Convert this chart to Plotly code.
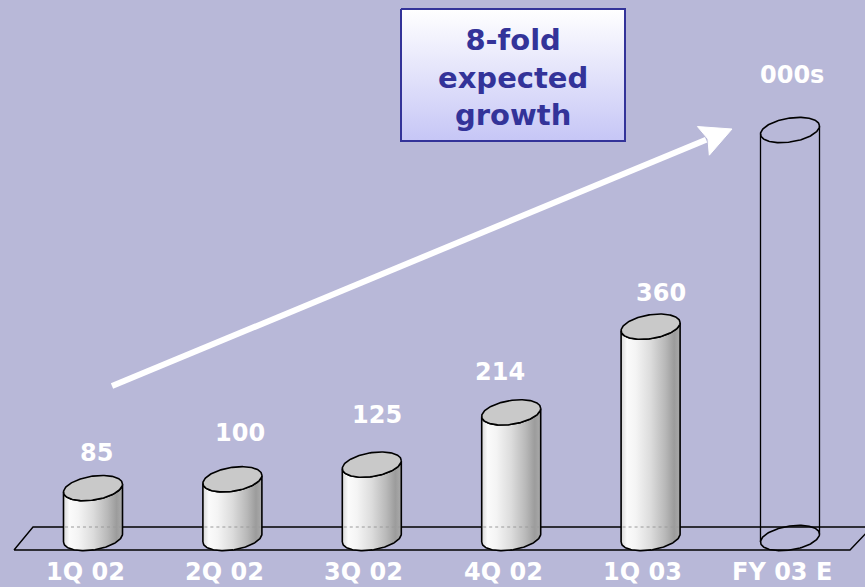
import numpy as np
import plotly.graph_objects as go

# ---- data -------------------------------------------------------------
categories = ["1Q 02", "2Q 02", "3Q 02", "4Q 02", "1Q 03", "FY 03 E"]
values = [85, 100, 125, 214, 360, 695]          # thousands
value_labels = ["85", "100", "125", "214", "360"]
unit_label = "000s"
callout_text = "8-fold<br>expected<br>growth"

# small nudges for the value labels (pixels: right, up from the cylinder top)
label_dx = [3, 8, 5, -11, 10]
label_dy = [35, 46, 50, 40, 34]

# ---- geometry / style -------------------------------------------------
W, H = 865, 587
BG = "#b8b8d8"
NAVY = "#333399"
FONT = "DejaVu Sans"
EDGE = 1.6

X0_PX, DX_PX = 93.0, 139.4        # pixel x of first category, pixel step
Y0_PX, PX_PER_UNIT = 538.0, 0.587  # pixel y of the zero line, pixels per unit


def xl(px):   # pixel length -> x-axis units
    return px / DX_PX


def yl(px):   # pixel length -> y-axis units
    return px / PX_PER_UNIT


def xp(px):   # pixel position -> x-axis coordinate
    return (px - X0_PX) / DX_PX


def yp(py):   # pixel position -> y-axis coordinate
    return (Y0_PX - py) / PX_PER_UNIT


A = xl(29.5)      # horizontal semi-axis of a cylinder end
B = yl(12.0)      # vertical semi-axis
TILT = yl(4.0)    # right end sits higher than the left end


def ellipse(cx, cy, t):
    return cx + A * np.cos(t), cy + TILT * np.cos(t) + B * np.sin(t)


BODY_SCALE = [
    [0.00, "#d8d8d8"],
    [0.10, "#fbfbfb"],
    [0.25, "#f4f4f4"],
    [0.50, "#dcdcdc"],
    [0.75, "#b8b8b8"],
    [0.90, "#9c9c9c"],
    [1.00, "#ababab"],
]

fig = go.Figure()


def add_line(x, y, color="black", width=EDGE, dash=None, fill=None, fillcolor=None,
             fillgradient=None):
    fig.add_trace(go.Scatter(
        x=list(x), y=list(y), mode="lines",
        line=dict(color=color, width=width, dash=dash),
        fill=fill, fillcolor=fillcolor, fillgradient=fillgradient,
        hoverinfo="skip", showlegend=False,
    ))


# ---- floor ------------------------------------------------------------
floor_px = [(14, 550), (33, 527), (872, 527), (850, 550), (14, 550)]
add_line([xp(p[0]) for p in floor_px], [yp(p[1]) for p in floor_px], width=1.4)

# ---- cylinders --------------------------------------------------------
t_front = np.linspace(np.pi, 2 * np.pi, 80)
t_full = np.linspace(0, 2 * np.pi, 160)

for i, v in enumerate(values):
    solid = i < len(values) - 1
    if solid:
        bx, by = ellipse(i, 0, t_front)
        tx, ty = ellipse(i, v, t_front[::-1])
        xs = np.concatenate([bx, tx, bx[:1]])
        ys = np.concatenate([by, ty, by[:1]])
        add_line(xs, ys, fill="toself",
                 fillgradient=dict(type="horizontal", colorscale=BODY_SCALE))
        # back edge of the floor glimpsed through the cylinder
        add_line([i - A * 0.95, i + A * 0.95], [yp(527), yp(527)],
                 color="#9a9a9a", width=1, dash="dot")
        ex, ey = ellipse(i, v, t_full)
        add_line(ex, ey, fill="toself", fillcolor="#c9c9c9")
    else:
        # forecast: outline only
        ex, ey = ellipse(i, 0, t_full)
        add_line(ex, ey)
        ex, ey = ellipse(i, v, t_full)
        add_line(ex, ey)
        lx0, ly0 = ellipse(i, 0, np.array([np.pi]))
        lx1, ly1 = ellipse(i, v, np.array([np.pi]))
        add_line([lx0[0], lx1[0]], [ly0[0], ly1[0]], width=1.3)
        rx0, ry0 = ellipse(i, 0, np.array([0.0]))
        rx1, ry1 = ellipse(i, v, np.array([0.0]))
        add_line([rx0[0], rx1[0]], [ry0[0], ry1[0]], width=1.3)

# ---- growth arrow -----------------------------------------------------
tail = np.array([112.0, 386.0])
tip = np.array([732.0, 129.0])
d = (tip - tail) / np.linalg.norm(tip - tail)
n = np.array([-d[1], d[0]])
head_len, head_half = 31.0, 15.5
base = tip - d * head_len
notch = base + d * 5
w1 = base + n * head_half
w2 = base - n * head_half
add_line([xp(tail[0]), xp(notch[0] - d[0] * 2)], [yp(tail[1]), yp(notch[1] - d[1] * 2)],
         color="white", width=6)
head = [tip, w1, notch, w2, tip]
add_line([xp(p[0]) for p in head], [yp(p[1]) for p in head],
         color="white", width=1, fill="toself", fillcolor="white")

# ---- callout box ------------------------------------------------------
bx0, by0, bx1, by1 = 401, 9, 625, 141
box = [(bx0, by0), (bx1, by0), (bx1, by1), (bx0, by1), (bx0, by0)]
add_line([xp(p[0]) for p in box], [yp(p[1]) for p in box],
         color=NAVY, width=2, fill="toself",
         fillgradient=dict(type="vertical",
                           colorscale=[[0, "#c6c6f6"], [1, "#ffffff"]]))

annotations = [
    dict(x=xp((bx0 + bx1) / 2), y=yp(77), text="<b>" + callout_text + "</b>",
         showarrow=False, xanchor="center", yanchor="middle",
         font=dict(family=FONT, size=29, color=NAVY)),
]

# ---- labels -----------------------------------------------------------
for i, c in enumerate(categories):
    annotations.append(dict(
        x=i, y=0, text="<b>" + c + "</b>", showarrow=False,
        xanchor="center", yanchor="middle", xshift=-8, yshift=-34,
        font=dict(family=FONT, size=24, color="white")))

for i, lab in enumerate(value_labels):
    annotations.append(dict(
        x=i, y=values[i], text="<b>" + lab + "</b>", showarrow=False,
        xanchor="center", yanchor="middle",
        xshift=label_dx[i], yshift=label_dy[i],
        font=dict(family=FONT, size=24, color="white")))

annotations.append(dict(
    x=len(values) - 1, y=values[-1], text="<b>" + unit_label + "</b>",
    showarrow=False, xanchor="center", yanchor="middle", xshift=2, yshift=55,
    font=dict(family=FONT, size=24, color="white")))

fig.update_layout(
    width=W, height=H,
    margin=dict(l=0, r=0, t=0, b=0),
    paper_bgcolor=BG, plot_bgcolor=BG,
    showlegend=False, hovermode=False,
    xaxis=dict(range=[xp(0), xp(W)], visible=False, fixedrange=True),
    yaxis=dict(range=[yp(H), yp(0)], visible=False, fixedrange=True),
    annotations=annotations,
)

fig.write_html("out.html")
